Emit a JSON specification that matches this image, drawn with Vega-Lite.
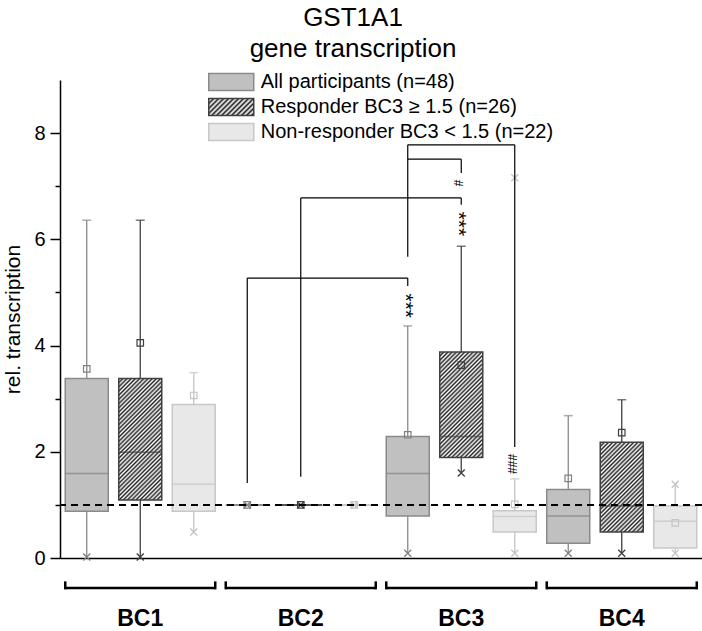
{
"$schema": "https://vega.github.io/schema/vega-lite/v6.json",
"width": 642,
"height": 478,
"autosize": "none",
"padding": {"left": 60, "top": 80, "right": 0, "bottom": 73},
"background": "#ffffff",
"config": {"font": "Liberation Sans", "view": {"stroke": null}, "axis": {"grid": false}},
"title": {"text": ["GST1A1", "gene transcription"], "fontSize": 26, "fontWeight": "normal", "lineHeight": 31, "anchor": "middle", "frame": "group", "dx": -28, "offset": 10, "color": "#000000"},
"datasets": {
"boxes": [
{"box":"BC1 A","g":"BC1","s":"A","q1":0.88,"med":1.59,"q3":3.38,"mean":3.56,"lo":0.02,"hi":6.36},
{"box":"BC1 R","g":"BC1","s":"R","q1":1.09,"med":1.99,"q3":3.38,"mean":4.05,"lo":0.02,"hi":6.36},
{"box":"BC1 N","g":"BC1","s":"N","q1":0.88,"med":1.39,"q3":2.89,"mean":3.06,"lo":0.49,"hi":3.49},
{"box":"BC2 A","g":"BC2","s":"A","q1":1,"med":1,"q3":1,"mean":1,"lo":1,"hi":1},
{"box":"BC2 R","g":"BC2","s":"R","q1":1,"med":1,"q3":1,"mean":1,"lo":1,"hi":1},
{"box":"BC2 N","g":"BC2","s":"N","q1":1,"med":1,"q3":1,"mean":1,"lo":1,"hi":1},
{"box":"BC3 A","g":"BC3","s":"A","q1":0.79,"med":1.59,"q3":2.29,"mean":2.32,"lo":0.09,"hi":4.37},
{"box":"BC3 R","g":"BC3","s":"R","q1":1.89,"med":2.29,"q3":3.88,"mean":3.63,"lo":1.6,"hi":5.87},
{"box":"BC3 N","g":"BC3","s":"N","q1":0.49,"med":0.78,"q3":0.89,"mean":1.01,"lo":0.09,"hi":1.49},
{"box":"BC4 A","g":"BC4","s":"A","q1":0.28,"med":0.79,"q3":1.29,"mean":1.5,"lo":0.09,"hi":2.68},
{"box":"BC4 R","g":"BC4","s":"R","q1":0.49,"med":0.98,"q3":2.18,"mean":2.36,"lo":0.09,"hi":2.98},
{"box":"BC4 N","g":"BC4","s":"N","q1":0.19,"med":0.69,"q3":0.98,"mean":0.66,"lo":0.09,"hi":1.39}
],
"caps": [
{"box":"BC1 A","s":"A","y":6.36},
{"box":"BC1 R","s":"R","y":6.36},
{"box":"BC1 N","s":"N","y":3.49},
{"box":"BC3 A","s":"A","y":4.37},
{"box":"BC3 R","s":"R","y":5.87},
{"box":"BC3 N","s":"N","y":1.49},
{"box":"BC4 A","s":"A","y":2.68},
{"box":"BC4 R","s":"R","y":2.98}
],
"crosses": [
{"box":"BC1 A","s":"A","y":0.02},
{"box":"BC1 R","s":"R","y":0.02},
{"box":"BC1 N","s":"N","y":0.49},
{"box":"BC2 A","s":"A","y":1},
{"box":"BC2 R","s":"R","y":1},
{"box":"BC2 N","s":"N","y":1},
{"box":"BC3 A","s":"A","y":0.09},
{"box":"BC3 R","s":"R","y":1.6},
{"box":"BC3 N","s":"N","y":0.09},
{"box":"BC3 N","s":"N","y":7.16},
{"box":"BC4 A","s":"A","y":0.09},
{"box":"BC4 R","s":"R","y":0.09},
{"box":"BC4 N","s":"N","y":0.09},
{"box":"BC4 N","s":"N","y":1.39}
],
"vlinks": [
{"box":"BC2 A","y":1.41,"y2":5.27},
{"box":"BC3 A","y":5.27,"y2":5.12},
{"box":"BC2 R","y":1.53,"y2":6.78},
{"box":"BC3 R","y":6.78,"y2":6.65},
{"box":"BC3 A","y":5.67,"y2":7.78},
{"box":"BC3 N","y":7.78,"y2":2.09},
{"box":"BC3 R","y":7.51,"y2":7.25}
],
"hlinks": [
{"box":"BC2 A","box2":"BC3 A","y":5.27},
{"box":"BC2 R","box2":"BC3 R","y":6.78},
{"box":"BC3 A","box2":"BC3 N","y":7.78},
{"box":"BC3 A","box2":"BC3 R","y":7.51}
],
"sig": [
{"box":"BC3 A","y":4.75,"t":"***"},
{"box":"BC3 R","y":6.29,"t":"***"},
{"box":"BC3 R","y":7.06,"t":"#"},
{"box":"BC3 N","y":1.77,"t":"###"}
],
"brackets": [
{"g":"BC1","first":"BC1 A","last":"BC1 N"},
{"g":"BC2","first":"BC2 A","last":"BC2 N"},
{"g":"BC3","first":"BC3 A","last":"BC3 N"},
{"g":"BC4","first":"BC4 A","last":"BC4 N"}
]
},
"layer": [
{"data": {"name": "boxes"},
 "mark": {"type": "rule", "strokeWidth": 1.3},
 "encoding": {
  "x": {"field": "box", "type": "nominal",
   "scale": {"domain": ["BC1 A","BC1 R","BC1 N","BC2 A","BC2 R","BC2 N","BC3 A","BC3 R","BC3 N","BC4 A","BC4 R","BC4 N"], "paddingInner": 0.196, "paddingOuter": 0.098},
   "axis": {"title": null, "ticks": false, "tickSize": 0, "domainColor": "#000000", "domainWidth": 1.5, "labelAngle": 0, "labelExpr": "slice(datum.value, -1) === 'R' ? slice(datum.value, 0, 3) : ''", "labelFontSize": 23, "labelFontWeight": "bold", "labelColor": "#000000", "labelPadding": 49}},
  "y": {"field": "lo", "type": "quantitative",
   "scale": {"domain": [0, 9], "nice": false, "zero": false},
   "axis": {"title": "rel. transcription", "values": [0,1,2,3,4,5,6,7,8], "labelExpr": "datum.value % 2 === 0 ? datum.label : ''", "tickSize": {"condition": {"test": "datum.value % 2 === 1", "value": 5}, "value": 10}, "tickColor": "#000000", "tickWidth": 1.5, "domainColor": "#000000", "domainWidth": 1.5, "labelFontSize": 20, "labelColor": "#000000", "labelPadding": 5, "titleFontSize": 21, "titleFontWeight": "normal", "titleColor": "#000000", "titlePadding": 10}},
  "y2": {"field": "hi"},
  "stroke": {"condition": [{"test": "datum.s === 'A'", "value": "#8a8a8a"}, {"test": "datum.s === 'R'", "value": "#404040"}], "value": "#c4c4c4"}
 }},
{"data": {"name": "caps"},
 "mark": {"type": "tick", "orient": "horizontal", "size": 9, "thickness": 1.5},
 "encoding": {
  "x": {"field": "box", "type": "nominal"},
  "y": {"field": "y", "type": "quantitative"},
  "color": {"condition": [{"test": "datum.s === 'A'", "value": "#8a8a8a"}, {"test": "datum.s === 'R'", "value": "#404040"}], "value": "#c4c4c4"}
 }},
{"data": {"name": "boxes"},
 "transform": [{"filter": "datum.s !== 'R'"}],
 "mark": {"type": "bar", "strokeWidth": 1.5},
 "encoding": {
  "x": {"field": "box", "type": "nominal"},
  "y": {"field": "q1", "type": "quantitative"},
  "y2": {"field": "q3"},
  "fill": {"field": "s", "type": "nominal",
   "scale": {"domain": ["A","R","N"], "range": ["#c0c0c0", {"expr": "{gradient:'linear',x1:0,y1:0,x2:1.548,y2:0.5848,stops:[{offset:0,color:'#222'},{offset:0.03125,color:'#fff'},{offset:0.0625,color:'#222'},{offset:0.09375,color:'#fff'},{offset:0.125,color:'#222'},{offset:0.15625,color:'#fff'},{offset:0.1875,color:'#222'},{offset:0.21875,color:'#fff'},{offset:0.25,color:'#222'},{offset:0.28125,color:'#fff'},{offset:0.3125,color:'#222'},{offset:0.34375,color:'#fff'},{offset:0.375,color:'#222'},{offset:0.40625,color:'#fff'},{offset:0.4375,color:'#222'},{offset:0.46875,color:'#fff'},{offset:0.5,color:'#222'},{offset:0.53125,color:'#fff'},{offset:0.5625,color:'#222'},{offset:0.59375,color:'#fff'},{offset:0.625,color:'#222'},{offset:0.65625,color:'#fff'},{offset:0.6875,color:'#222'},{offset:0.71875,color:'#fff'},{offset:0.75,color:'#222'},{offset:0.78125,color:'#fff'},{offset:0.8125,color:'#222'},{offset:0.84375,color:'#fff'},{offset:0.875,color:'#222'},{offset:0.90625,color:'#fff'},{offset:0.9375,color:'#222'},{offset:0.96875,color:'#fff'},{offset:1,color:'#222'}]}"}, "#e8e8e8"]},
   "legend": {"title": null, "orient": "none", "legendX": 148, "legendY": -8, "symbolType": "M-2.8125,-1.0625H2.8125V1.0625H-2.8125Z", "symbolSize": 256, "symbolStrokeWidth": 1.5, "symbolOffset": 13.25, "labelOffset": 19.5, "labelFontSize": 20, "labelColor": "#000000", "labelLimit": 400, "rowPadding": 1, "padding": 0,
    "labelExpr": "datum.label === 'A' ? 'All participants (n=48)' : datum.label === 'R' ? 'Responder BC3 ≥ 1.5 (n=26)' : 'Non-responder BC3 < 1.5 (n=22)'"}},
  "stroke": {"field": "s", "type": "nominal",
   "scale": {"domain": ["A","R","N"], "range": ["#8a8a8a", "#404040", "#c8c8c8"]},
   "legend": {"title": null, "orient": "none", "legendX": 148, "legendY": -8, "symbolType": "M-2.8125,-1.0625H2.8125V1.0625H-2.8125Z", "symbolSize": 256, "symbolStrokeWidth": 1.5, "symbolOffset": 13.25, "labelOffset": 19.5, "labelFontSize": 20, "labelColor": "#000000", "labelLimit": 400, "rowPadding": 1, "padding": 0,
    "labelExpr": "datum.label === 'A' ? 'All participants (n=48)' : datum.label === 'R' ? 'Responder BC3 ≥ 1.5 (n=26)' : 'Non-responder BC3 < 1.5 (n=22)'"}}
 }},
{"data": {"name": "boxes"},
 "transform": [{"filter": "datum.s === 'R'"}],
 "mark": {"type": "bar", "stroke": "#404040", "strokeWidth": 1.5},
 "encoding": {
  "x": {"field": "box", "type": "nominal"},
  "y": {"field": "q1", "type": "quantitative"},
  "y2": {"field": "q3"},
  "fill": {"condition": [
   {"test": "datum.g === 'BC1'", "value": {"gradient":"linear","x1":0,"y1":0,"x2":0.4342,"y2":1.228,"stops":[{"offset":0,"color":"#222"},{"offset":0.0125,"color":"#fff"},{"offset":0.025,"color":"#222"},{"offset":0.0375,"color":"#fff"},{"offset":0.05,"color":"#222"},{"offset":0.0625,"color":"#fff"},{"offset":0.075,"color":"#222"},{"offset":0.0875,"color":"#fff"},{"offset":0.1,"color":"#222"},{"offset":0.1125,"color":"#fff"},{"offset":0.125,"color":"#222"},{"offset":0.1375,"color":"#fff"},{"offset":0.15,"color":"#222"},{"offset":0.1625,"color":"#fff"},{"offset":0.175,"color":"#222"},{"offset":0.1875,"color":"#fff"},{"offset":0.2,"color":"#222"},{"offset":0.2125,"color":"#fff"},{"offset":0.225,"color":"#222"},{"offset":0.2375,"color":"#fff"},{"offset":0.25,"color":"#222"},{"offset":0.2625,"color":"#fff"},{"offset":0.275,"color":"#222"},{"offset":0.2875,"color":"#fff"},{"offset":0.3,"color":"#222"},{"offset":0.3125,"color":"#fff"},{"offset":0.325,"color":"#222"},{"offset":0.3375,"color":"#fff"},{"offset":0.35,"color":"#222"},{"offset":0.3625,"color":"#fff"},{"offset":0.375,"color":"#222"},{"offset":0.3875,"color":"#fff"},{"offset":0.4,"color":"#222"},{"offset":0.4125,"color":"#fff"},{"offset":0.425,"color":"#222"},{"offset":0.4375,"color":"#fff"},{"offset":0.45,"color":"#222"},{"offset":0.4625,"color":"#fff"},{"offset":0.475,"color":"#222"},{"offset":0.4875,"color":"#fff"},{"offset":0.5,"color":"#222"},{"offset":0.5125,"color":"#fff"},{"offset":0.525,"color":"#222"},{"offset":0.5375,"color":"#fff"},{"offset":0.55,"color":"#222"},{"offset":0.5625,"color":"#fff"},{"offset":0.575,"color":"#222"},{"offset":0.5875,"color":"#fff"},{"offset":0.6,"color":"#222"},{"offset":0.6125,"color":"#fff"},{"offset":0.625,"color":"#222"},{"offset":0.6375,"color":"#fff"},{"offset":0.65,"color":"#222"},{"offset":0.6625,"color":"#fff"},{"offset":0.675,"color":"#222"},{"offset":0.6875,"color":"#fff"},{"offset":0.7,"color":"#222"},{"offset":0.7125,"color":"#fff"},{"offset":0.725,"color":"#222"},{"offset":0.7375,"color":"#fff"},{"offset":0.75,"color":"#222"},{"offset":0.7625,"color":"#fff"},{"offset":0.775,"color":"#222"},{"offset":0.7875,"color":"#fff"},{"offset":0.8,"color":"#222"},{"offset":0.8125,"color":"#fff"},{"offset":0.825,"color":"#222"},{"offset":0.8375,"color":"#fff"},{"offset":0.85,"color":"#222"},{"offset":0.8625,"color":"#fff"},{"offset":0.875,"color":"#222"},{"offset":0.8875,"color":"#fff"},{"offset":0.9,"color":"#222"},{"offset":0.9125,"color":"#fff"},{"offset":0.925,"color":"#222"},{"offset":0.9375,"color":"#fff"},{"offset":0.95,"color":"#222"},{"offset":0.9625,"color":"#fff"},{"offset":0.975,"color":"#222"},{"offset":0.9875,"color":"#fff"},{"offset":1,"color":"#222"}]}},
   {"test": "datum.g === 'BC3'", "value": {"gradient":"linear","x1":0,"y1":0,"x2":0.5548,"y2":1.3638,"stops":[{"offset":0,"color":"#222"},{"offset":0.0125,"color":"#fff"},{"offset":0.025,"color":"#222"},{"offset":0.0375,"color":"#fff"},{"offset":0.05,"color":"#222"},{"offset":0.0625,"color":"#fff"},{"offset":0.075,"color":"#222"},{"offset":0.0875,"color":"#fff"},{"offset":0.1,"color":"#222"},{"offset":0.1125,"color":"#fff"},{"offset":0.125,"color":"#222"},{"offset":0.1375,"color":"#fff"},{"offset":0.15,"color":"#222"},{"offset":0.1625,"color":"#fff"},{"offset":0.175,"color":"#222"},{"offset":0.1875,"color":"#fff"},{"offset":0.2,"color":"#222"},{"offset":0.2125,"color":"#fff"},{"offset":0.225,"color":"#222"},{"offset":0.2375,"color":"#fff"},{"offset":0.25,"color":"#222"},{"offset":0.2625,"color":"#fff"},{"offset":0.275,"color":"#222"},{"offset":0.2875,"color":"#fff"},{"offset":0.3,"color":"#222"},{"offset":0.3125,"color":"#fff"},{"offset":0.325,"color":"#222"},{"offset":0.3375,"color":"#fff"},{"offset":0.35,"color":"#222"},{"offset":0.3625,"color":"#fff"},{"offset":0.375,"color":"#222"},{"offset":0.3875,"color":"#fff"},{"offset":0.4,"color":"#222"},{"offset":0.4125,"color":"#fff"},{"offset":0.425,"color":"#222"},{"offset":0.4375,"color":"#fff"},{"offset":0.45,"color":"#222"},{"offset":0.4625,"color":"#fff"},{"offset":0.475,"color":"#222"},{"offset":0.4875,"color":"#fff"},{"offset":0.5,"color":"#222"},{"offset":0.5125,"color":"#fff"},{"offset":0.525,"color":"#222"},{"offset":0.5375,"color":"#fff"},{"offset":0.55,"color":"#222"},{"offset":0.5625,"color":"#fff"},{"offset":0.575,"color":"#222"},{"offset":0.5875,"color":"#fff"},{"offset":0.6,"color":"#222"},{"offset":0.6125,"color":"#fff"},{"offset":0.625,"color":"#222"},{"offset":0.6375,"color":"#fff"},{"offset":0.65,"color":"#222"},{"offset":0.6625,"color":"#fff"},{"offset":0.675,"color":"#222"},{"offset":0.6875,"color":"#fff"},{"offset":0.7,"color":"#222"},{"offset":0.7125,"color":"#fff"},{"offset":0.725,"color":"#222"},{"offset":0.7375,"color":"#fff"},{"offset":0.75,"color":"#222"},{"offset":0.7625,"color":"#fff"},{"offset":0.775,"color":"#222"},{"offset":0.7875,"color":"#fff"},{"offset":0.8,"color":"#222"},{"offset":0.8125,"color":"#fff"},{"offset":0.825,"color":"#222"},{"offset":0.8375,"color":"#fff"},{"offset":0.85,"color":"#222"},{"offset":0.8625,"color":"#fff"},{"offset":0.875,"color":"#222"},{"offset":0.8875,"color":"#fff"},{"offset":0.9,"color":"#222"},{"offset":0.9125,"color":"#fff"},{"offset":0.925,"color":"#222"},{"offset":0.9375,"color":"#fff"},{"offset":0.95,"color":"#222"},{"offset":0.9625,"color":"#fff"},{"offset":0.975,"color":"#222"},{"offset":0.9875,"color":"#fff"},{"offset":1,"color":"#222"}]}},
   {"test": "datum.g === 'BC4'", "value": {"gradient":"linear","x1":0,"y1":0,"x2":0.7301,"y2":1.523,"stops":[{"offset":0,"color":"#222"},{"offset":0.0125,"color":"#fff"},{"offset":0.025,"color":"#222"},{"offset":0.0375,"color":"#fff"},{"offset":0.05,"color":"#222"},{"offset":0.0625,"color":"#fff"},{"offset":0.075,"color":"#222"},{"offset":0.0875,"color":"#fff"},{"offset":0.1,"color":"#222"},{"offset":0.1125,"color":"#fff"},{"offset":0.125,"color":"#222"},{"offset":0.1375,"color":"#fff"},{"offset":0.15,"color":"#222"},{"offset":0.1625,"color":"#fff"},{"offset":0.175,"color":"#222"},{"offset":0.1875,"color":"#fff"},{"offset":0.2,"color":"#222"},{"offset":0.2125,"color":"#fff"},{"offset":0.225,"color":"#222"},{"offset":0.2375,"color":"#fff"},{"offset":0.25,"color":"#222"},{"offset":0.2625,"color":"#fff"},{"offset":0.275,"color":"#222"},{"offset":0.2875,"color":"#fff"},{"offset":0.3,"color":"#222"},{"offset":0.3125,"color":"#fff"},{"offset":0.325,"color":"#222"},{"offset":0.3375,"color":"#fff"},{"offset":0.35,"color":"#222"},{"offset":0.3625,"color":"#fff"},{"offset":0.375,"color":"#222"},{"offset":0.3875,"color":"#fff"},{"offset":0.4,"color":"#222"},{"offset":0.4125,"color":"#fff"},{"offset":0.425,"color":"#222"},{"offset":0.4375,"color":"#fff"},{"offset":0.45,"color":"#222"},{"offset":0.4625,"color":"#fff"},{"offset":0.475,"color":"#222"},{"offset":0.4875,"color":"#fff"},{"offset":0.5,"color":"#222"},{"offset":0.5125,"color":"#fff"},{"offset":0.525,"color":"#222"},{"offset":0.5375,"color":"#fff"},{"offset":0.55,"color":"#222"},{"offset":0.5625,"color":"#fff"},{"offset":0.575,"color":"#222"},{"offset":0.5875,"color":"#fff"},{"offset":0.6,"color":"#222"},{"offset":0.6125,"color":"#fff"},{"offset":0.625,"color":"#222"},{"offset":0.6375,"color":"#fff"},{"offset":0.65,"color":"#222"},{"offset":0.6625,"color":"#fff"},{"offset":0.675,"color":"#222"},{"offset":0.6875,"color":"#fff"},{"offset":0.7,"color":"#222"},{"offset":0.7125,"color":"#fff"},{"offset":0.725,"color":"#222"},{"offset":0.7375,"color":"#fff"},{"offset":0.75,"color":"#222"},{"offset":0.7625,"color":"#fff"},{"offset":0.775,"color":"#222"},{"offset":0.7875,"color":"#fff"},{"offset":0.8,"color":"#222"},{"offset":0.8125,"color":"#fff"},{"offset":0.825,"color":"#222"},{"offset":0.8375,"color":"#fff"},{"offset":0.85,"color":"#222"},{"offset":0.8625,"color":"#fff"},{"offset":0.875,"color":"#222"},{"offset":0.8875,"color":"#fff"},{"offset":0.9,"color":"#222"},{"offset":0.9125,"color":"#fff"},{"offset":0.925,"color":"#222"},{"offset":0.9375,"color":"#fff"},{"offset":0.95,"color":"#222"},{"offset":0.9625,"color":"#fff"},{"offset":0.975,"color":"#222"},{"offset":0.9875,"color":"#fff"},{"offset":1,"color":"#222"}]}}
  ], "value": "#ffffff"}
 }},
{"data": {"name": "boxes"},
 "mark": {"type": "tick", "orient": "horizontal", "size": 43, "thickness": 1.5},
 "encoding": {
  "x": {"field": "box", "type": "nominal"},
  "y": {"field": "med", "type": "quantitative"},
  "color": {"condition": [{"test": "datum.s === 'A'", "value": "#808080"}, {"test": "datum.s === 'R'", "value": "#404040"}], "value": "#c4c4c4"}
 }},
{"data": {"name": "boxes"},
 "mark": {"type": "point", "shape": "square", "size": 42, "filled": false, "strokeWidth": 1.2, "opacity": 1},
 "encoding": {
  "x": {"field": "box", "type": "nominal"},
  "y": {"field": "mean", "type": "quantitative"},
  "color": {"condition": [{"test": "datum.s === 'A'", "value": "#808080"}, {"test": "datum.s === 'R'", "value": "#404040"}], "value": "#c4c4c4"}
 }},
{"data": {"name": "crosses"},
 "mark": {"type": "point", "shape": "M-1,-1L1,1M-1,1L1,-1", "size": 49, "filled": false, "strokeWidth": 1.4, "opacity": 1},
 "encoding": {
  "x": {"field": "box", "type": "nominal"},
  "y": {"field": "y", "type": "quantitative"},
  "color": {"condition": [{"test": "datum.s === 'A'", "value": "#808080"}, {"test": "datum.s === 'R'", "value": "#404040"}], "value": "#c4c4c4"}
 }},
{"data": {"values": [{"ref": 1}]},
 "mark": {"type": "rule", "color": "#000000", "strokeWidth": 2, "strokeDash": [7, 5]},
 "encoding": {"y": {"field": "ref", "type": "quantitative"}}},
{"data": {"name": "vlinks"},
 "mark": {"type": "rule", "color": "#000000", "strokeWidth": 1.2},
 "encoding": {
  "x": {"field": "box", "type": "nominal"},
  "y": {"field": "y", "type": "quantitative"},
  "y2": {"field": "y2"}
 }},
{"data": {"name": "hlinks"},
 "mark": {"type": "rule", "color": "#000000", "strokeWidth": 1.2},
 "encoding": {
  "x": {"field": "box", "type": "nominal"},
  "x2": {"field": "box2"},
  "y": {"field": "y", "type": "quantitative"}
 }},
{"data": {"name": "sig"},
 "mark": {"type": "text", "angle": 90, "color": "#000000", "baseline": "middle", "align": "center", "dy": 3},
 "encoding": {
  "x": {"field": "box", "type": "nominal"},
  "y": {"field": "y", "type": "quantitative"},
  "text": {"field": "t"},
  "size": {"condition": {"test": "datum.t === '***'", "value": 21}, "value": 12}
 }},
{"data": {"name": "brackets"},
 "mark": {"type": "rule", "color": "#000000", "strokeWidth": 2.5, "xOffset": -21.5, "x2Offset": 21.5},
 "encoding": {
  "x": {"field": "first", "type": "nominal"},
  "x2": {"field": "last"},
  "y": {"datum": -0.565}
 }},
{"data": {"name": "brackets"},
 "mark": {"type": "rule", "color": "#000000", "strokeWidth": 2.5, "xOffset": -21.5},
 "encoding": {
  "x": {"field": "first", "type": "nominal"},
  "y": {"datum": -0.59},
  "y2": {"datum": -0.44}
 }},
{"data": {"name": "brackets"},
 "mark": {"type": "rule", "color": "#000000", "strokeWidth": 2.5, "xOffset": 21.5},
 "encoding": {
  "x": {"field": "last", "type": "nominal"},
  "y": {"datum": -0.59},
  "y2": {"datum": -0.44}
 }}
]
}
